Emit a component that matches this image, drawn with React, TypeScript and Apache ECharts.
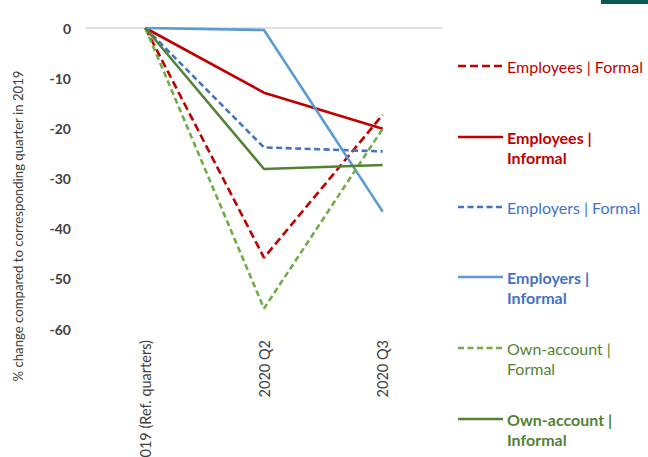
import React, { useEffect, useRef } from "react";
import * as echarts from "echarts";

const categories = ["2019 (Ref. quarters)", "2020 Q2", "2020 Q3"];
const employeesFormal = [0, -45.8, -17.3];
const employeesInformal = [0, -12.9, -20.1];
const employersFormal = [0, -23.8, -24.6];
const employersInformal = [0, -0.4, -36.6];
const ownAccountFormal = [0, -55.9, -20.1];
const ownAccountInformal = [0, -28.1, -27.3];
const yTicks = [0, -10, -20, -30, -40, -50, -60];

const FONT = "Lato, 'Open Sans', sans-serif";

const seriesDefs = [
  { name: "Employees | Formal", data: employeesFormal, color: "#C00000", dash: [8, 4], text: "#C00000", bold: false, lines: ["Employees | Formal"], y: 66 },
  { name: "Employees | Informal", data: employeesInformal, color: "#C00000", dash: "solid", text: "#C00000", bold: true, lines: ["Employees |", "Informal"], y: 137 },
  { name: "Employers | Formal", data: employersFormal, color: "#4472C4", dash: [6, 3.5], text: "#4472C4", bold: false, lines: ["Employers | Formal"], y: 207 },
  { name: "Employers | Informal", data: employersInformal, color: "#5B9BD5", dash: "solid", text: "#4472C4", bold: true, lines: ["Employers |", "Informal"], y: 277 },
  { name: "Own-account | Formal", data: ownAccountFormal, color: "#70AD47", dash: [6, 3.5], text: "#548235", bold: false, lines: ["Own-account |", "Formal"], y: 348 },
  { name: "Own-account | Informal", data: ownAccountInformal, color: "#548235", dash: "solid", text: "#548235", bold: true, lines: ["Own-account |", "Informal"], y: 419 },
];

export default function App() {
  const ref = useRef<HTMLDivElement>(null);
  useEffect(() => {
    if (!ref.current) return;
    const chart = echarts.init(ref.current, undefined, { renderer: "svg" });
    const legendGraphics: any[] = [];
    seriesDefs.forEach((s) => {
      legendGraphics.push({
        type: "line",
        shape: { x1: 458, y1: s.y, x2: 503, y2: s.y },
        style: { stroke: s.color, lineWidth: 2.6, lineDash: s.dash === "solid" ? null : s.dash },
      });
      s.lines.forEach((ln, i) => {
        legendGraphics.push({
          type: "text",
          x: 507,
          y: s.y + i * 20.5,
          style: {
            text: ln,
            fill: s.text,
            font: `${s.bold ? "bold " : ""}16px ${FONT}`,
            verticalAlign: "middle",
            align: "left",
          },
        });
      });
    });
    chart.setOption({
      animation: false,
      backgroundColor: "#ffffff",
      grid: { left: 86, right: 206, top: 28, bottom: 128, containLabel: false, outerBoundsMode: "none" },
      xAxis: [
        {
          type: "category",
          data: categories,
          position: "bottom",
          boundaryGap: true,
          axisLine: { show: false, onZero: false },
          axisTick: { show: false },
          splitLine: { show: false },
          axisLabel: { rotate: 90, margin: 11, fontSize: 14.5, color: "#404040", fontFamily: FONT },
        },
        {
          type: "category",
          data: categories,
          position: "top",
          boundaryGap: true,
          axisLine: { show: true, onZero: false, lineStyle: { color: "#d9d9d9", width: 1.5 } },
          axisTick: { show: false },
          axisLabel: { show: false },
          splitLine: { show: false },
        },
      ],
      yAxis: {
        type: "value",
        min: yTicks[yTicks.length - 1],
        max: yTicks[0],
        interval: 10,
        axisLine: { show: false },
        axisTick: { show: false },
        splitLine: { show: false },
        axisLabel: { margin: 15, fontSize: 14, fontWeight: "bold", color: "#404040", fontFamily: FONT },
      },
      graphic: [
        { type: "rect", shape: { x: 601, y: 0, width: 47, height: 4 }, style: { fill: "#0B5A55" } },
        {
          type: "text",
          x: 18,
          y: 226,
          rotation: Math.PI / 2,
          style: {
            text: "% change compared to corresponding quarter in 2019",
            fill: "#404040",
            font: `13.2px ${FONT}`,
            align: "center",
            verticalAlign: "middle",
          },
        },
        ...legendGraphics,
      ],
      series: seriesDefs.map((s) => ({
        name: s.name,
        type: "line",
        xAxisIndex: 0,
        data: s.data,
        symbol: "none",
        lineStyle: { color: s.color, width: 2.6, type: s.dash },
        itemStyle: { color: s.color },
      })),
    });
    return () => chart.dispose();
  }, []);
  return (
    <div
      ref={ref}
      style={{ position: "fixed", left: 0, top: 0, width: 648, height: 457 }}
    />
  );
}
